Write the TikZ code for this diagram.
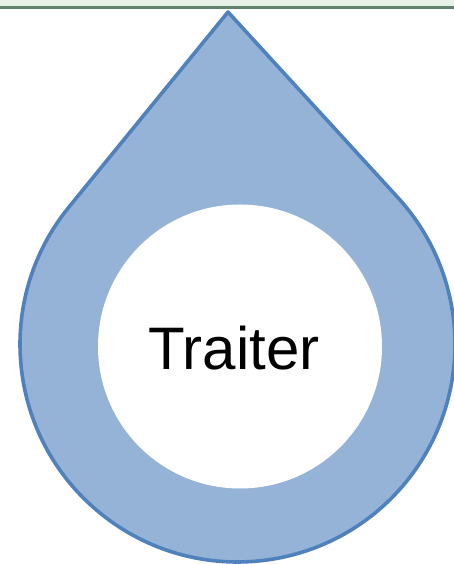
\documentclass[tikz,border=0pt]{standalone}
\usepackage{fontspec}
\setmainfont{Liberation Sans}
\usetikzlibrary{calc}
\definecolor{dropfill}{HTML}{95B3D7}
\definecolor{dropline}{HTML}{4F81BD}
\definecolor{rule}{HTML}{62826F}
\definecolor{band}{HTML}{E6F1EA}
\tikzset{
  drop/.style={fill=dropfill, draw=dropline, line width=3.6bp, line join=round},
  dropshadow/.style={fill=black, opacity=0.12},
  hole/.style={fill=white},
  label/.style={font=\fontsize{60bp}{64bp}\selectfont, text=black}
}
\begin{document}
\begin{tikzpicture}[x=1bp,y=1bp]
\useasboundingbox (0,0) rectangle (454,564);
% top band and rule
\fill[band] (0,564) rectangle (454,557);
\draw[rule, line width=2.6bp] (0,556.3) -- (454,556.3);
% drop shape
\coordinate (tip) at (228,552);
\coordinate (c) at (237.5,219.5);
\fill[dropshadow, yshift=-3bp] (tip) -- ($(c)+(140.8:217.5)$) arc[start angle=140.8, end angle=402.4, radius=217.5] -- cycle;
\path[drop] (tip) -- ($(c)+(140.8:217.5)$) arc[start angle=140.8, end angle=402.4, radius=217.5] -- cycle;
% inner white circle
\node[hole, circle, minimum size=284bp, inner sep=0pt] (inner) at (240,217.5) {};
\node[label] (t) at (234,216) {Traiter};
\end{tikzpicture}
\end{document}
